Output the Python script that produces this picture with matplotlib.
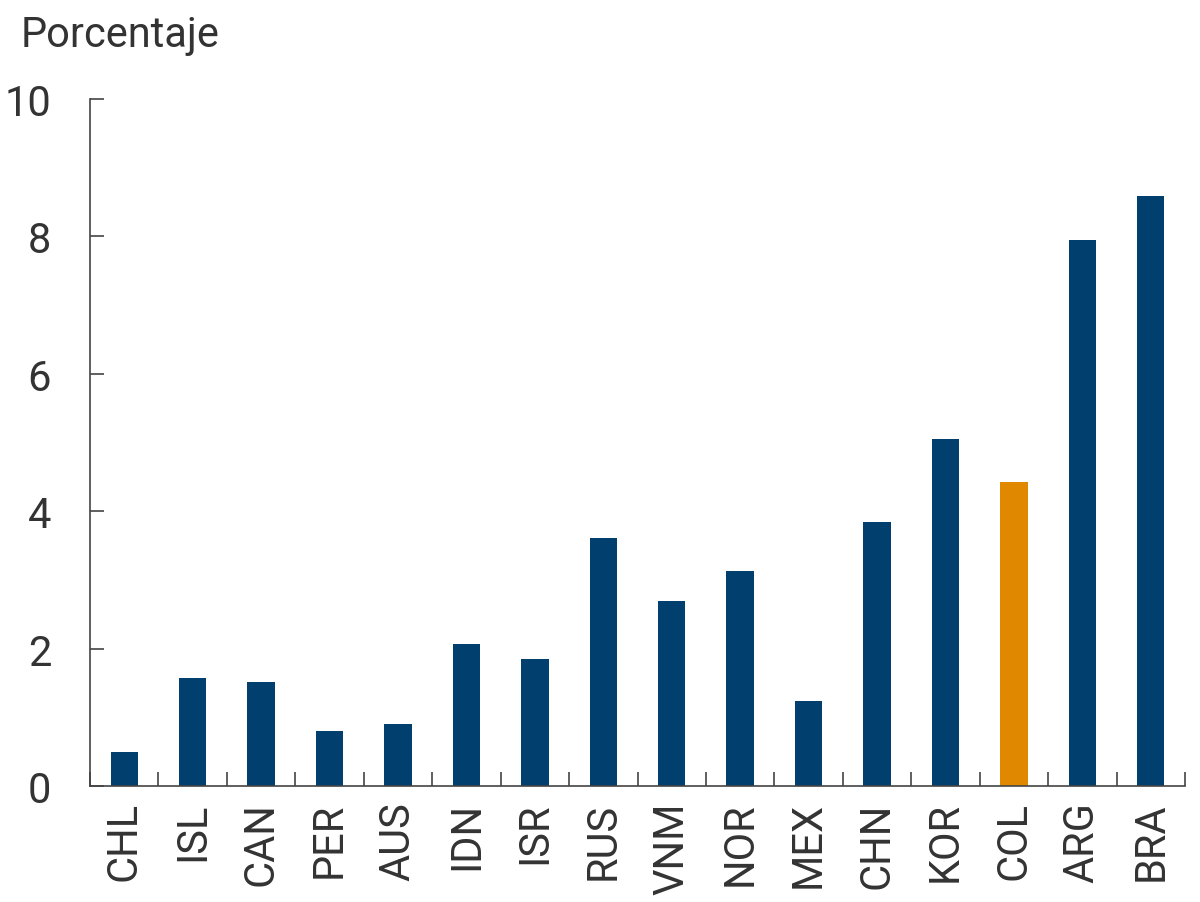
import matplotlib.pyplot as plt
import numpy as np

plt.rcParams['font.family'] = ['Roboto', 'DejaVu Sans']

# Data
countries = ["CHL", "ISL", "CAN", "PER", "AUS", "IDN", "ISR", "RUS",
             "VNM", "NOR", "MEX", "CHN", "KOR", "COL", "ARG", "BRA"]
values = [0.49, 1.57, 1.51, 0.80, 0.90, 2.07, 1.85, 3.61,
          2.69, 3.13, 1.24, 3.84, 5.05, 4.42, 7.95, 8.59]
highlight = "COL"
y_ticks = [0, 2, 4, 6, 8, 10]

c_blue = '#003f6e'
c_orange = '#e08800'
c_text = '#333333'

fig = plt.figure(figsize=(12, 9.03), dpi=100)
ax = fig.add_axes([90 / 1200, 1 - 787 / 903, 1095 / 1200, 687 / 903])

x = np.arange(len(countries))
colors = [c_orange if c == highlight else c_blue for c in countries]
ax.bar(x, values, width=0.4, color=colors, zorder=2)

ax.set_xlim(-0.5, len(countries) - 0.5)
ax.set_ylim(0, 10)
ax.set_yticks(y_ticks)
ax.set_yticklabels([str(t) for t in y_ticks])

# category labels centred, boundary ticks as minor ticks
ax.set_xticks(x)
ax.set_xticklabels(countries, rotation=90)
ax.set_xticks(np.arange(len(countries) + 1) - 0.5, minor=True)

ax.tick_params(axis='x', which='major', length=0, pad=11, labelsize=30, labelcolor=c_text)
ax.tick_params(axis='x', which='minor', direction='in', length=10, width=1.2, color='#444444')
ax.tick_params(axis='y', direction='in', length=10, width=1.2, color='#444444',
               pad=28, labelsize=30, labelcolor=c_text)

for side in ['top', 'right']:
    ax.spines[side].set_visible(False)
for side in ['left', 'bottom']:
    ax.spines[side].set_color('#444444')
    ax.spines[side].set_linewidth(1.2)

fig.text(21 / 1200, 1 - 47 / 903, "Porcentaje", fontsize=30, color=c_text,
         ha='left', va='baseline')

plt.savefig("out.png", dpi=100)
